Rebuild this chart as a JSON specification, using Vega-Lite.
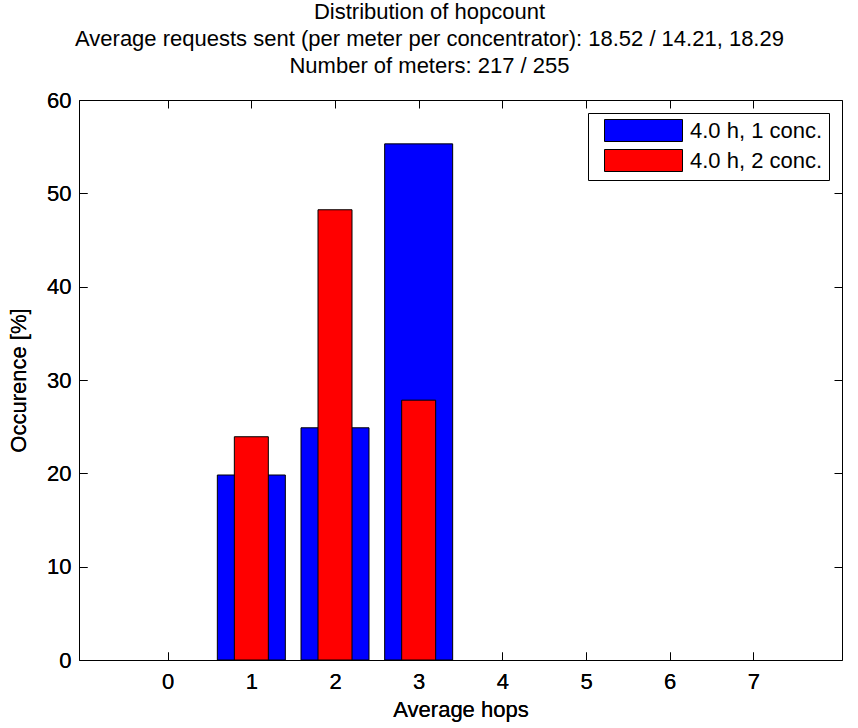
{
  "$schema": "https://vega.github.io/schema/vega-lite/v6.json",
  "width": 763,
  "height": 560,
  "autosize": {"type": "none"},
  "padding": {"left": 79, "top": 100, "right": 16, "bottom": 68},
  "background": "white",
  "config": {
    "font": "Liberation Sans",
    "view": {"stroke": "black", "strokeWidth": 1},
    "axis": {
      "grid": false,
      "domain": false,
      "tickColor": "black",
      "tickSize": -8,
      "tickWidth": 1,
      "labelFontSize": 22,
      "labelColor": "black",
      "titleFontSize": 22,
      "titleFontWeight": "normal",
      "titleColor": "black",
      "labelFont": "Liberation Sans",
      "titleFont": "Liberation Sans"
    }
  },
  "title": {
    "text": [
      "Distribution of hopcount",
      "Average requests sent (per meter per concentrator):  18.52 / 14.21, 18.29",
      "Number of meters: 217 / 255"
    ],
    "fontSize": 22,
    "fontWeight": "normal",
    "font": "Liberation Sans",
    "color": "black",
    "anchor": "middle",
    "frame": "group",
    "offset": 11,
    "dx": -31,
    "lineHeight": 27
  },
  "data": {
    "values": [
      {"hops": 1, "occurrence": 19.82, "series": "4.0 h, 1 conc."},
      {"hops": 2, "occurrence": 24.88, "series": "4.0 h, 1 conc."},
      {"hops": 3, "occurrence": 55.30, "series": "4.0 h, 1 conc."},
      {"hops": 1, "occurrence": 23.92, "series": "4.0 h, 2 conc."},
      {"hops": 2, "occurrence": 48.24, "series": "4.0 h, 2 conc."},
      {"hops": 3, "occurrence": 27.84, "series": "4.0 h, 2 conc."}
    ]
  },
  "encoding": {
    "x": {
      "field": "hops",
      "type": "quantitative",
      "scale": {"domain": [-1, 8], "nice": false, "zero": false},
      "axis": {"values": [0, 1, 2, 3, 4, 5, 6, 7], "title": "Average hops", "labelPadding": 19, "titlePadding": 7, "orient": "bottom"}
    },
    "y": {
      "field": "occurrence",
      "type": "quantitative",
      "stack": null,
      "scale": {"domain": [0, 60], "nice": false},
      "axis": {"values": [0, 10, 20, 30, 40, 50, 60], "title": "Occurence [%]", "labelPadding": 16, "titlePadding": 16, "orient": "left"}
    },
    "color": {
      "field": "series",
      "type": "nominal",
      "scale": {"domain": ["4.0 h, 1 conc.", "4.0 h, 2 conc."], "range": ["#0000ff", "#ff0000"]},
      "legend": {
        "title": null,
        "orient": "top-right",
        "offset": 13,
        "strokeColor": "black",
        "fillColor": "white",
        "padding": 6,
        "symbolType": "M-3.545,-1H3.545V1H-3.545Z",
        "symbolSize": 484,
        "symbolOffset": 38,
        "symbolStrokeColor": "black",
        "symbolStrokeWidth": 1,
        "symbolOpacity": 1,
        "labelFontSize": 22,
        "labelColor": "black",
        "labelFont": "Liberation Sans",
        "labelOffset": 35,
        "rowPadding": 3
      }
    }
  },
  "layer": [
    {
      "transform": [{"filter": "datum.series === '4.0 h, 1 conc.'"}],
      "mark": {"type": "bar", "stroke": "black", "strokeWidth": 1, "size": 68}
    },
    {
      "transform": [{"filter": "datum.series === '4.0 h, 2 conc.'"}],
      "mark": {"type": "bar", "stroke": "black", "strokeWidth": 1, "size": 34}
    },
    {
      "mark": {"type": "bar", "opacity": 0},
      "encoding": {
        "x": {
          "field": "hops",
          "type": "quantitative",
          "axis": {"values": [0, 1, 2, 3, 4, 5, 6, 7], "title": null, "labels": false, "orient": "top"}
        },
        "y": {
          "field": "occurrence",
          "type": "quantitative",
          "stack": null,
          "axis": {"values": [0, 10, 20, 30, 40, 50, 60], "title": null, "labels": false, "orient": "right"}
        },
        "color": {"value": "transparent"}
      }
    }
  ],
  "resolve": {"axis": {"x": "independent", "y": "independent"}}
}
